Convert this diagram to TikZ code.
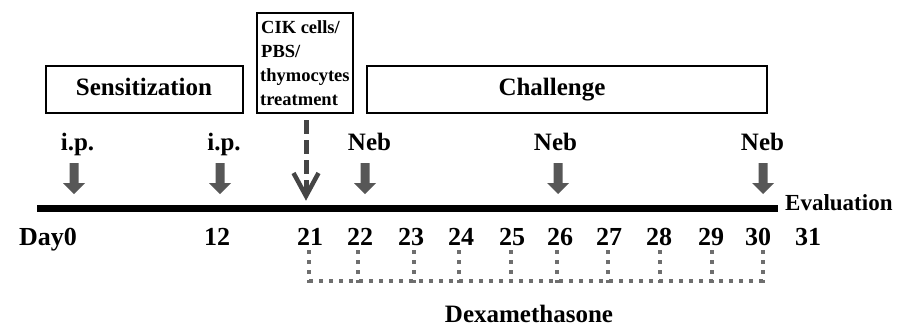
\documentclass[tikz,border=0pt]{standalone}
\usepackage{fontspec}
\setmainfont{Liberation Serif}
\usetikzlibrary{calc}
\definecolor{arrowgray}{HTML}{575757}
\definecolor{dashgray}{HTML}{454545}
\definecolor{dotgray}{HTML}{6E6E6E}
\begin{document}
\begin{tikzpicture}[x=1pt,y=-1pt,
  box/.style={draw, line width=2pt, inner sep=0pt},
  lbl/.style={font=\fontsize{25}{30}\selectfont\bfseries, inner sep=0pt, anchor=base},
  daylbl/.style={font=\fontsize{26}{30}\selectfont\bfseries, inner sep=0pt, anchor=base},
  smalllbl/.style={font=\fontsize{18.5}{24}\selectfont\bfseries, inner sep=0pt, anchor=base west},
  evallbl/.style={font=\fontsize{23}{28}\selectfont\bfseries, inner sep=0pt, anchor=base west},
  dexdot/.style={dotgray, line width=4pt, dash pattern=on 4pt off 6pt},
  dashline/.style={dashgray, line width=5pt, dash pattern=on 14pt off 6pt},
  vhead/.style={dashgray, line width=4.5pt, line join=miter},
  fatarrow/.pic={\fill[arrowgray] (-4.5,-31) -- (4.5,-31) -- (4.5,-11) -- (11,-11) -- (0,0) -- (-11,-11) -- (-4.5,-11) -- cycle;}
]
\useasboundingbox (0,0) rectangle (903,327);

% boxes
\node[box, minimum width=197pt, minimum height=47pt] (sens) at (144.5,89.5) {};
\node[box, minimum width=96pt, minimum height=100pt] (cik) at (305,63) {};
\node[box, minimum width=400pt, minimum height=47pt] (chal) at (567,89.5) {};

\node[lbl] (sensl) at (144,95) {Sensitization};
\node[lbl] (chall) at (552,95) {Challenge};
\node[smalllbl] (cik1) at (261,33) {CIK cells/};
\node[smalllbl] (cik2) at (261,57) {PBS/};
\node[smalllbl] (cik3) at (260,81) {thymocytes};
\node[smalllbl] (cik4) at (260,105) {treatment};

% top labels
\node[lbl] (ip1) at (77.5,150) {i.p.};
\node[lbl] (ip2) at (224,150) {i.p.};
\node[lbl] (neb1) at (369.5,150) {Neb};
\node[lbl] (neb2) at (555.5,150) {Neb};
\node[lbl] (neb3) at (762.5,150) {Neb};

% fat arrows
\pic at (74,194) {fatarrow};
\pic at (220,194) {fatarrow};
\pic at (365,194) {fatarrow};
\pic at (558,194) {fatarrow};
\pic at (763,194) {fatarrow};

% dashed arrow
\coordinate (dA) at (306,120);
\coordinate (dB) at (306,184);
\coordinate (dT) at (306,196);
\draw[dashline] (dA) -- (dB);
\draw[dashgray, line width=5pt] (dB) -- ($(dT)+(0,-3)$);
\draw[vhead] (293.5,173) -- (dT) -- (318.5,173);

% timeline
\coordinate (tlA) at (37,208);
\coordinate (tlB) at (778,208);
\draw[line width=7pt] (tlA) -- (tlB);
\node[evallbl] (eval) at (785,210) {Evaluation};

% day labels
\node[daylbl] (d0) at (48,245) {Day0};
\foreach \n/\x in {12/217,21/310,22/360,23/411,24/461,25/512,26/560,27/609,28/659,29/711,30/758,31/808}
  \node[daylbl] (d\n) at (\x,245) {\n};

% dexamethasone bracket
\coordinate (dexL) at (309,281);
\coordinate (dexR) at (763,281);
\foreach \x in {309,358,414,459,511,557,608,660,712,763}
  \draw[dexdot] (\x,250) -- (\x,283);
\draw[dexdot] (dexL) -- (dexR);
\node[lbl] (dex) at (529,322) {Dexamethasone};
\end{tikzpicture}
\end{document}
